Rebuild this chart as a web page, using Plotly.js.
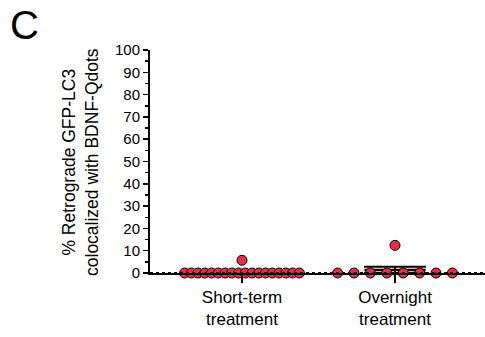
<!DOCTYPE html>
<html>
<head>
<meta charset="utf-8">
<script src="https://cdn.plot.ly/plotly-3.0.1.min.js"></script>
<style>html,body{margin:0;padding:0;background:#fff;}#chart{width:485px;height:337px;}</style>
</head>
<body>
<div id="chart"></div>
<script>
// ---- data ----
const categories = ["Short-term<br>treatment", "Overnight<br>treatment"];
const shortTerm = [0,0,0,0,0,0,0,0,0,5.7,0,0,0,0,0,0,0,0,0];
const overnight = [0,0,0,0,12.4,0,0,0,0];
const yTickVals = [0,10,20,30,40,50,60,70,80,90,100];
const panelLabel = "C";
const yTitle = "% Retrograde GFP-LC3<br>colocalized with BDNF-Qdots";

const groups = [shortTerm, overnight];
const FONT = "Arial, 'Liberation Sans', Helvetica, sans-serif";
const RED = "#EE2A47";

// spread tied values across the column width (column-scatter layout)
function spread(vals, center, width) {
  const xs = new Array(vals.length);
  const byVal = {};
  vals.forEach((v, i) => { (byVal[v] = byVal[v] || []).push(i); });
  Object.values(byVal).forEach(idx => {
    const n = idx.length;
    idx.forEach((i, k) => {
      xs[i] = n === 1 ? center : center - width / 2 + width * k / (n - 1);
    });
  });
  return xs;
}
function mean(a){ return a.reduce((s,v)=>s+v,0)/a.length; }
function sem(a){ const m=mean(a); const sd=Math.sqrt(a.reduce((s,v)=>s+(v-m)*(v-m),0)/(a.length-1)); return sd/Math.sqrt(a.length); }

const traces = [];
groups.forEach((g, gi) => {
  const m = mean(g), e = sem(g);
  traces.push({x:[gi-0.2, gi+0.2], y:[m, m], mode:'lines', line:{color:'#000', width:2.5},
    hoverinfo:'skip', showlegend:false, cliponaxis:false});
  traces.push({x:[gi], y:[m], mode:'markers', marker:{size:0.1, color:'rgba(0,0,0,0)'},
    error_y:{type:'data', array:[e], visible:true, color:'#000', thickness:2, width:31},
    hoverinfo:'skip', showlegend:false, cliponaxis:false});
});
groups.forEach((g, gi) => {
  traces.push({x: spread(g, gi, 0.75), y: g, mode:'markers', type:'scatter',
    marker:{size:10, color:RED, line:{color:'#000', width:1}},
    showlegend:false, cliponaxis:false});
});

const layout = {
  width:485, height:337,
  margin:{l:150, r:0, t:50, b:64},
  paper_bgcolor:'#fff', plot_bgcolor:'rgba(0,0,0,0)',
  font:{family:FONT, color:'#000', size:15},
  showlegend:false,
  xaxis:{range:[-0.601, 1.588], tickvals:[0,1], ticktext:categories,
    ticks:'outside', ticklen:8, tickwidth:2, tickcolor:'#000',
    showline:true, linecolor:'#000', linewidth:1.5, showgrid:false, zeroline:false,
    tickfont:{size:17, family:FONT}, fixedrange:true},
  yaxis:{range:[0,100], tickvals:yTickVals, ticks:'outside', ticklen:5, tickwidth:1.5, tickcolor:'#000',
    minor:{dtick:5, tick0:0, ticks:'outside', ticklen:3, tickwidth:1.5, tickcolor:'#000'},
    showline:true, linecolor:'#000', linewidth:2, showgrid:false, zeroline:false,
    tickfont:{size:15, family:FONT}},
  shapes:[{type:'line', xref:'paper', yref:'y', x0:0, x1:1, y0:0, y1:0,
    line:{color:'#000', width:2, dash:'dot'}}],
  annotations:[
    {text:panelLabel, xref:'paper', yref:'paper', x:-0.425, y:1.112,
     xanchor:'left', yanchor:'middle', showarrow:false, font:{size:40, family:FONT, color:'#000'}},
    {text:yTitle, xref:'paper', yref:'paper', x:-0.2075, y:0.5, textangle:-90,
     xanchor:'center', yanchor:'middle', showarrow:false, font:{size:17.5, family:FONT, color:'#000'}}
  ]
};
Plotly.newPlot('chart', traces, layout, {displayModeBar:false, staticPlot:true});
</script>
</body>
</html>
